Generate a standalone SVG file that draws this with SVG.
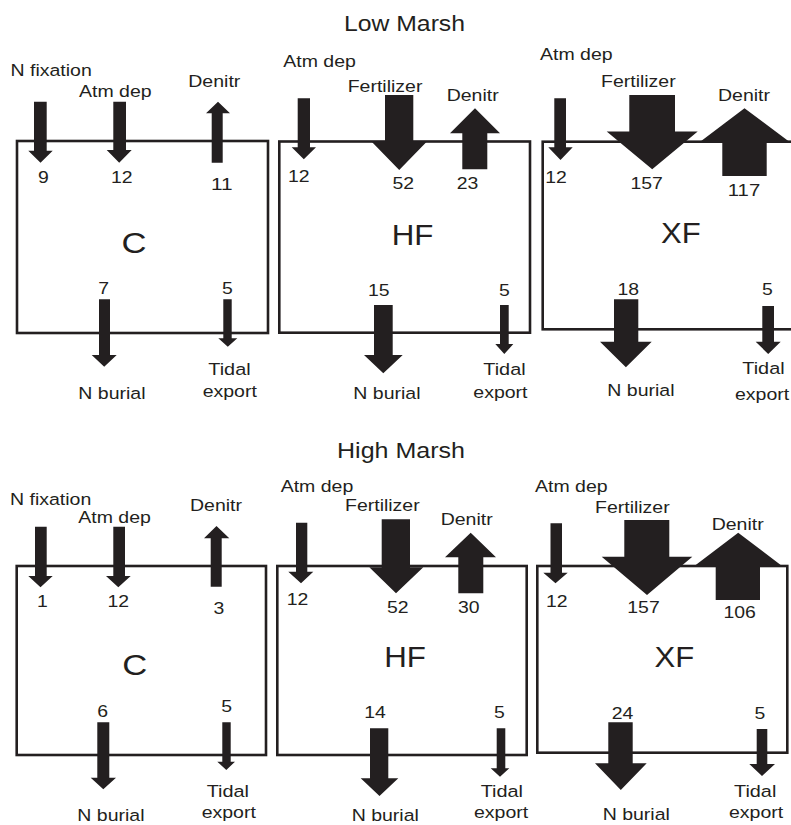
<svg xmlns="http://www.w3.org/2000/svg" width="791" height="825" viewBox="0 0 791 825">
<style>
.box{fill:none;stroke:#231f20;stroke-width:2.6}
.ar{fill:#231f20}
text{font-family:"Liberation Sans",Arial,Helvetica,sans-serif;fill:#231f20}
.t{font-size:22px}
.l{font-size:16.3px}
.n{font-size:16.3px}
.big{font-size:29px}
</style>
<rect width="791" height="825" fill="#ffffff"/>
<text class="t" x="344" y="31" textLength="121" lengthAdjust="spacingAndGlyphs">Low Marsh</text>
<text class="t" x="337" y="458" textLength="128" lengthAdjust="spacingAndGlyphs">High Marsh</text>

<g id="low-C">
<rect class="box" x="17" y="141" width="251" height="192"/>
<text class="big" x="121.5" y="253" textLength="25" lengthAdjust="spacingAndGlyphs">C</text>
</g>
<g id="low-HF">
<rect class="box" x="279.3" y="141.5" width="250.7" height="191.2"/>
<text class="big" x="391.7" y="245" textLength="41.7" lengthAdjust="spacingAndGlyphs">HF</text>
</g>
<g id="low-XF">
<rect class="box" x="542.7" y="141.7" width="262" height="187.6"/>
<text class="big" x="661" y="243" textLength="39.7" lengthAdjust="spacingAndGlyphs">XF</text>
</g>
<g id="high-C">
<rect class="box" x="16.7" y="566" width="249.3" height="189"/>
<text class="big" x="122.2" y="675" textLength="25" lengthAdjust="spacingAndGlyphs">C</text>
</g>
<g id="high-HF">
<rect class="box" x="277.3" y="566" width="249.4" height="189"/>
<text class="big" x="384.2" y="667" textLength="41.7" lengthAdjust="spacingAndGlyphs">HF</text>
</g>
<g id="high-XF">
<rect class="box" x="537.3" y="566" width="250" height="186.7"/>
<text class="big" x="654.6" y="667" textLength="39.7" lengthAdjust="spacingAndGlyphs">XF</text>
</g>

<g id="connectors">
<!-- low C -->
<polygon class="ar" points="34,101.7 46.7,101.7 46.7,150.7 52.7,150.7 40.5,162.7 28.3,150.7 34,150.7"/>
<polygon class="ar" points="113.3,101.7 126,101.7 126,150 131.7,150 119.2,162.7 106.7,150 113.3,150"/>
<polygon class="ar" points="211.7,162.7 222.7,162.7 222.7,113.3 230,113.3 218,101.7 206,113.3 211.7,113.3"/>
<polygon class="ar" points="99,299.3 110,299.3 110,355 116.7,355 104.2,366.7 91.7,355 99,355"/>
<polygon class="ar" points="223.3,299.3 231.7,299.3 231.7,338.3 237.3,338.3 227.8,346.7 218.3,338.3 223.3,338.3"/>
<!-- low HF -->
<polygon class="ar" points="297.7,98.3 310,98.3 310,147.3 316,147.3 303.8,159.3 291.7,147.3 297.7,147.3"/>
<polygon class="ar" points="385,95 413.3,95 413.3,141.7 426.7,141.7 399.2,170 371.7,141.7 385,141.7"/>
<polygon class="ar" points="462.3,169.3 487.3,169.3 487.3,133.3 500,133.3 475,108.3 450,133.3 462.3,133.3"/>
<polygon class="ar" points="374,305 392.7,305 392.7,355 402.7,355 383.3,373.3 364,355 374,355"/>
<polygon class="ar" points="500,305 508.7,305 508.7,344 513.3,344 504.3,354 495.3,344 500,344"/>
<!-- low XF -->
<polygon class="ar" points="554.3,98.3 566,98.3 566,147.3 572.7,147.3 560.5,160 548.3,147.3 554.3,147.3"/>
<polygon class="ar" points="629.3,95 675,95 675,131.5 697.7,131.5 652.2,169.3 606.7,131.5 629.3,131.5"/>
<polygon class="ar" points="722.3,176 766.7,176 766.7,142.2 790,142.2 744.5,108.3 699.5,142.2 722.3,142.2"/>
<polygon class="ar" points="614,299.3 638.3,299.3 638.3,341.7 651.7,341.7 625.9,367.3 600,341.7 614,341.7"/>
<polygon class="ar" points="762.3,306 774,306 774,341.7 780.7,341.7 768.2,354 755.7,341.7 762.3,341.7"/>
<!-- high C -->
<polygon class="ar" points="35,526.7 46.7,526.7 46.7,576 52.7,576 40.5,587.3 28.3,576 35,576"/>
<polygon class="ar" points="113.3,526.7 125,526.7 125,576 130.7,576 118.3,587.3 106,576 113.3,576"/>
<polygon class="ar" points="210.7,586.7 221.7,586.7 221.7,538.3 229.3,538.3 216.5,526 204,538.3 210.7,538.3"/>
<polygon class="ar" points="97.3,722.3 109.3,722.3 109.3,777.7 116,777.7 103.3,789.3 90.7,777.7 97.3,777.7"/>
<polygon class="ar" points="222.3,722.3 230.7,722.3 230.7,761.7 235,761.7 226.3,770 217.3,761.7 222.3,761.7"/>
<!-- high HF -->
<polygon class="ar" points="296,522.7 307.3,522.7 307.3,571.7 313.3,571.7 301,583.3 288.3,571.7 296,571.7"/>
<polygon class="ar" points="381.7,519.3 410,519.3 410,567.3 423.3,567.3 396,593.3 369.3,567.3 381.7,567.3"/>
<polygon class="ar" points="458.3,593.3 483.3,593.3 483.3,557.3 496,557.3 470.7,532.7 445,557.3 458.3,557.3"/>
<polygon class="ar" points="370,728.3 388.3,728.3 388.3,778.3 398.3,778.3 379.5,796 360.7,778.3 370,778.3"/>
<polygon class="ar" points="496.7,728.3 505.3,728.3 505.3,768.3 509.3,768.3 500,776.7 490.7,768.3 496.7,768.3"/>
<!-- high XF -->
<polygon class="ar" points="550.5,523.3 562,523.3 562,572.7 567.7,572.7 555.5,583.3 543.3,572.7 550.5,572.7"/>
<polygon class="ar" points="624.3,520 669.3,520 669.3,556.7 692.3,556.7 647,595 601.7,556.7 624.3,556.7"/>
<polygon class="ar" points="715.7,600 760,600 760,565 780.7,565 738.2,532.7 695.7,565 715.7,565"/>
<polygon class="ar" points="608.3,722.3 632.7,722.3 632.7,763.3 646.7,763.3 620.8,790 595,763.3 608.3,763.3"/>
<polygon class="ar" points="756.7,729 767.3,729 767.3,764 775,764 762,776 749.3,764 756.7,764"/>
</g>

<g id="labels-low-C">
<text class="l" x="10.5" y="76" textLength="81.3" lengthAdjust="spacingAndGlyphs">N fixation</text>
<text class="l" x="79" y="97" textLength="72.6" lengthAdjust="spacingAndGlyphs">Atm dep</text>
<text class="l" x="188.3" y="87.3" textLength="52" lengthAdjust="spacingAndGlyphs">Denitr</text>
<text class="n" x="37.9" y="183" textLength="10.8" lengthAdjust="spacingAndGlyphs">9</text>
<text class="n" x="110.9" y="183" textLength="21.6" lengthAdjust="spacingAndGlyphs">12</text>
<text class="n" x="210.9" y="190" textLength="21.6" lengthAdjust="spacingAndGlyphs">11</text>
<text class="n" x="98.3" y="294" textLength="10.8" lengthAdjust="spacingAndGlyphs">7</text>
<text class="n" x="222.1" y="294" textLength="10.8" lengthAdjust="spacingAndGlyphs">5</text>
<text class="l" x="78.3" y="399" textLength="67.2" lengthAdjust="spacingAndGlyphs">N burial</text>
<text class="l" x="208.3" y="375" textLength="42.3" lengthAdjust="spacingAndGlyphs">Tidal</text>
<text class="l" x="202.7" y="397" textLength="54.2" lengthAdjust="spacingAndGlyphs">export</text>
</g>
<g id="labels-low-HF">
<text class="l" x="283.3" y="66.5" textLength="72.6" lengthAdjust="spacingAndGlyphs">Atm dep</text>
<text class="l" x="347.7" y="91.7" textLength="74.7" lengthAdjust="spacingAndGlyphs">Fertilizer</text>
<text class="l" x="446.7" y="100.7" textLength="52" lengthAdjust="spacingAndGlyphs">Denitr</text>
<text class="n" x="288" y="182" textLength="21.6" lengthAdjust="spacingAndGlyphs">12</text>
<text class="n" x="392.5" y="189" textLength="21.6" lengthAdjust="spacingAndGlyphs">52</text>
<text class="n" x="456.7" y="189" textLength="21.6" lengthAdjust="spacingAndGlyphs">23</text>
<text class="n" x="368" y="296" textLength="21.6" lengthAdjust="spacingAndGlyphs">15</text>
<text class="n" x="498.9" y="296" textLength="10.8" lengthAdjust="spacingAndGlyphs">5</text>
<text class="l" x="353.3" y="399" textLength="67.2" lengthAdjust="spacingAndGlyphs">N burial</text>
<text class="l" x="483.3" y="375" textLength="42.3" lengthAdjust="spacingAndGlyphs">Tidal</text>
<text class="l" x="473.3" y="398" textLength="54.2" lengthAdjust="spacingAndGlyphs">export</text>
</g>
<g id="labels-low-XF">
<text class="l" x="540" y="60" textLength="72.6" lengthAdjust="spacingAndGlyphs">Atm dep</text>
<text class="l" x="601" y="86.7" textLength="74.7" lengthAdjust="spacingAndGlyphs">Fertilizer</text>
<text class="l" x="718" y="100.7" textLength="52" lengthAdjust="spacingAndGlyphs">Denitr</text>
<text class="n" x="545.2" y="183" textLength="21.6" lengthAdjust="spacingAndGlyphs">12</text>
<text class="n" x="630.5" y="189" textLength="32.4" lengthAdjust="spacingAndGlyphs">157</text>
<text class="n" x="727.8" y="195.5" textLength="32.4" lengthAdjust="spacingAndGlyphs">117</text>
<text class="n" x="617.5" y="295" textLength="21.6" lengthAdjust="spacingAndGlyphs">18</text>
<text class="n" x="762.1" y="295" textLength="10.8" lengthAdjust="spacingAndGlyphs">5</text>
<text class="l" x="607.3" y="396" textLength="67.2" lengthAdjust="spacingAndGlyphs">N burial</text>
<text class="l" x="742.3" y="373.5" textLength="42.3" lengthAdjust="spacingAndGlyphs">Tidal</text>
<text class="l" x="735" y="400" textLength="54.2" lengthAdjust="spacingAndGlyphs">export</text>
</g>
<g id="labels-high-C">
<text class="l" x="10" y="505" textLength="81.3" lengthAdjust="spacingAndGlyphs">N fixation</text>
<text class="l" x="78.3" y="522.7" textLength="72.6" lengthAdjust="spacingAndGlyphs">Atm dep</text>
<text class="l" x="190" y="510.7" textLength="52" lengthAdjust="spacingAndGlyphs">Denitr</text>
<text class="n" x="36.9" y="607" textLength="10.8" lengthAdjust="spacingAndGlyphs">1</text>
<text class="n" x="107.5" y="607" textLength="21.6" lengthAdjust="spacingAndGlyphs">12</text>
<text class="n" x="213.6" y="614" textLength="10.8" lengthAdjust="spacingAndGlyphs">3</text>
<text class="n" x="97.3" y="716.7" textLength="10.8" lengthAdjust="spacingAndGlyphs">6</text>
<text class="n" x="221.3" y="712" textLength="10.8" lengthAdjust="spacingAndGlyphs">5</text>
<text class="l" x="77.3" y="821" textLength="67.2" lengthAdjust="spacingAndGlyphs">N burial</text>
<text class="l" x="206.7" y="797" textLength="42.3" lengthAdjust="spacingAndGlyphs">Tidal</text>
<text class="l" x="201.7" y="818" textLength="54.2" lengthAdjust="spacingAndGlyphs">export</text>
</g>
<g id="labels-high-HF">
<text class="l" x="280.7" y="491.7" textLength="72.6" lengthAdjust="spacingAndGlyphs">Atm dep</text>
<text class="l" x="345" y="510.7" textLength="74.7" lengthAdjust="spacingAndGlyphs">Fertilizer</text>
<text class="l" x="440.7" y="525" textLength="52" lengthAdjust="spacingAndGlyphs">Denitr</text>
<text class="n" x="286.7" y="605" textLength="21.6" lengthAdjust="spacingAndGlyphs">12</text>
<text class="n" x="387" y="612.7" textLength="21.6" lengthAdjust="spacingAndGlyphs">52</text>
<text class="n" x="458" y="612.7" textLength="21.6" lengthAdjust="spacingAndGlyphs">30</text>
<text class="n" x="364.2" y="718.3" textLength="21.6" lengthAdjust="spacingAndGlyphs">14</text>
<text class="n" x="493.9" y="718.3" textLength="10.8" lengthAdjust="spacingAndGlyphs">5</text>
<text class="l" x="351.7" y="821" textLength="67.2" lengthAdjust="spacingAndGlyphs">N burial</text>
<text class="l" x="480.7" y="796.7" textLength="42.3" lengthAdjust="spacingAndGlyphs">Tidal</text>
<text class="l" x="474" y="818" textLength="54.2" lengthAdjust="spacingAndGlyphs">export</text>
</g>
<g id="labels-high-XF">
<text class="l" x="535" y="491.7" textLength="72.6" lengthAdjust="spacingAndGlyphs">Atm dep</text>
<text class="l" x="595" y="513.3" textLength="74.7" lengthAdjust="spacingAndGlyphs">Fertilizer</text>
<text class="l" x="711.7" y="530" textLength="52" lengthAdjust="spacingAndGlyphs">Denitr</text>
<text class="n" x="545.9" y="606.7" textLength="21.6" lengthAdjust="spacingAndGlyphs">12</text>
<text class="n" x="627.3" y="612.7" textLength="32.4" lengthAdjust="spacingAndGlyphs">157</text>
<text class="n" x="723.5" y="618.3" textLength="32.4" lengthAdjust="spacingAndGlyphs">106</text>
<text class="n" x="611.7" y="719.3" textLength="21.6" lengthAdjust="spacingAndGlyphs">24</text>
<text class="n" x="754.6" y="719.3" textLength="10.8" lengthAdjust="spacingAndGlyphs">5</text>
<text class="l" x="602.7" y="819.5" textLength="67.2" lengthAdjust="spacingAndGlyphs">N burial</text>
<text class="l" x="734" y="796.7" textLength="42.3" lengthAdjust="spacingAndGlyphs">Tidal</text>
<text class="l" x="729" y="818" textLength="54.2" lengthAdjust="spacingAndGlyphs">export</text>
</g>
</svg>
